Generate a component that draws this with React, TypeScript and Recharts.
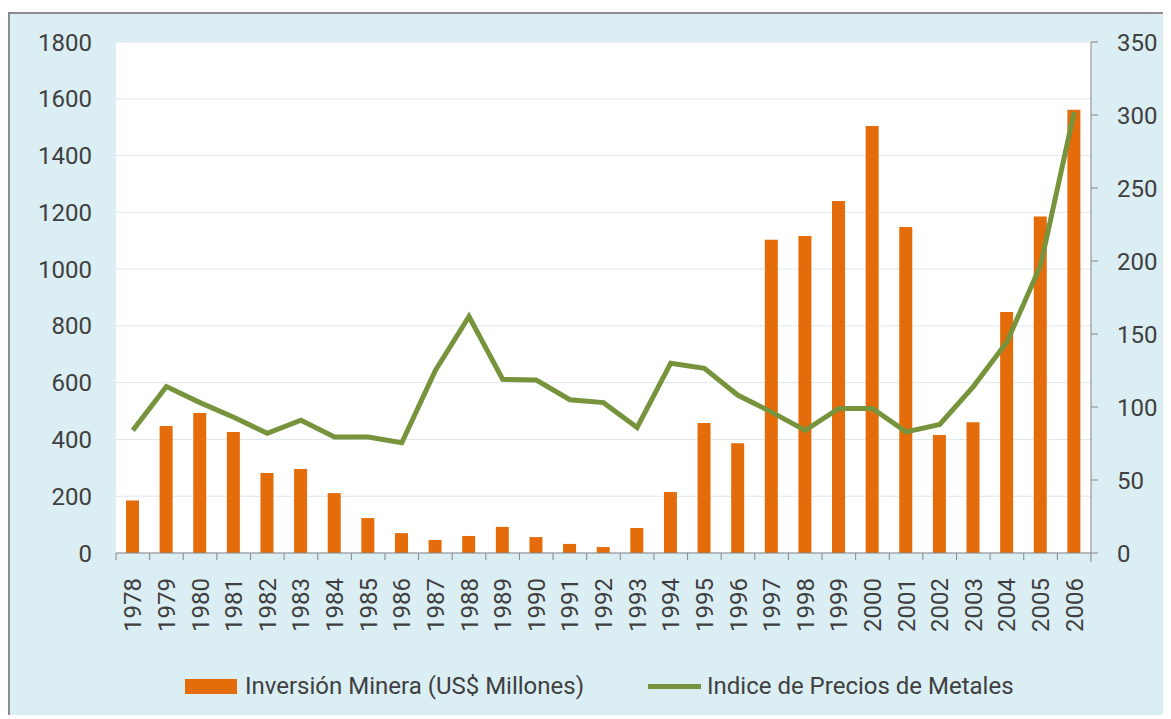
import { ComposedChart, Bar, Line, XAxis, YAxis, CartesianGrid, Legend } from "recharts";

const years = [
  "1978", "1979", "1980", "1981", "1982", "1983", "1984", "1985", "1986", "1987",
  "1988", "1989", "1990", "1991", "1992", "1993", "1994", "1995", "1996", "1997",
  "1998", "1999", "2000", "2001", "2002", "2003", "2004", "2005", "2006",
];

const inversionMinera = [
  185, 447, 493, 426, 282, 296, 211, 123, 70, 46,
  60, 92, 56, 32, 21, 88, 215, 458, 387, 1103,
  1117, 1240, 1504, 1148, 416, 461, 849, 1185, 1561,
];

const indicePrecios = [
  84, 114, 103, 93, 82, 91, 79.5, 79.5, 75.5, 125,
  162, 119, 118.5, 105, 103, 86, 130, 126.5, 108, 96.5,
  84, 99, 99, 83, 88, 114, 144.5, 197, 302,
];

const leftTicks = [0, 200, 400, 600, 800, 1000, 1200, 1400, 1600, 1800];
const rightTicks = [0, 50, 100, 150, 200, 250, 300, 350];

const data = years.map((year, i) => ({
  year,
  inversion: inversionMinera[i],
  indice: indicePrecios[i],
}));

const FONT = "Roboto, 'Open Sans', sans-serif";
const TEXT = "#404040";
const AXIS = "#868686";
const ORANGE = "#E46C0A";
const GREEN = "#77933C";

const CHART_W = 1161;
const CHART_H = 705;
const LEFT_W = 106;
const RIGHT_W = 80;
const band = (CHART_W - LEFT_W - RIGHT_W) / years.length;

function YearTick(props: any) {
  const { x, y, payload, index } = props;
  const left = x - band / 2;
  return (
    <g>
      <line x1={left} y1={y} x2={left} y2={y + 7} stroke={AXIS} strokeWidth={1} />
      {index === years.length - 1 && (
        <line x1={x + band / 2} y1={y} x2={x + band / 2} y2={y + 9} stroke={AXIS} strokeWidth={1} />
      )}
      <text
        transform={`translate(${x},${y + 25}) rotate(-90)`}
        textAnchor="end"
        dy="0.355em"
        fill={TEXT}
        fontSize={24}
        fontFamily={FONT}
      >
        {payload.value}
      </text>
    </g>
  );
}

function ChartLegend() {
  const label = { fontSize: 24, fontFamily: FONT, color: TEXT, whiteSpace: "nowrap" as const };
  return (
    <div style={{ position: "relative", height: 30 }}>
      <div style={{ position: "absolute", left: 175, top: 0, height: 30, display: "flex", alignItems: "center" }}>
        <span style={{ display: "inline-block", width: 52, height: 15, background: ORANGE, marginRight: 8 }} />
        <span style={label}>Inversión Minera (US$ Millones)</span>
      </div>
      <div style={{ position: "absolute", left: 638, top: 0, height: 30, display: "flex", alignItems: "center" }}>
        <span style={{ display: "inline-block", width: 53, height: 5, background: GREEN, marginRight: 6 }} />
        <span style={label}>Indice de Precios de Metales</span>
      </div>
    </div>
  );
}

export default function App() {
  return (
    <div
      style={{
        position: "relative",
        top: 4,
        width: CHART_W,
        height: CHART_H,
        background: "#DAEEF3",
        borderLeft: "2px solid #8c8c8c",
        borderTop: "2px solid #8c8c8c",
      }}
    >
      <ComposedChart
        width={CHART_W}
        height={CHART_H}
        data={data}
        margin={{ top: 28, right: 0, left: 0, bottom: 36 }}
      >
        <CartesianGrid yAxisId="left" vertical={false} stroke="#dde8ee" fill="#ffffff" />
        <XAxis
          dataKey="year"
          interval={0}
          height={100}
          tickLine={false}
          tickSize={0}
          tickMargin={0}
          stroke={AXIS}
          tick={<YearTick />}
        />
        <YAxis
          yAxisId="left"
          orientation="left"
          width={LEFT_W}
          domain={[0, 1800]}
          ticks={leftTicks}
          axisLine={false}
          tickLine={false}
          tickSize={0}
          tickMargin={24}
          tick={{ fill: TEXT, fontSize: 24, fontFamily: FONT }}
        />
        <YAxis
          yAxisId="right"
          orientation="right"
          width={RIGHT_W}
          domain={[0, 350]}
          ticks={rightTicks}
          stroke={AXIS}
          tickSize={7}
          tickMargin={19}
          tick={{ fill: TEXT, fontSize: 24, fontFamily: FONT }}
        />
        <Legend
          verticalAlign="bottom"
          content={<ChartLegend />}
          wrapperStyle={{ left: 0, top: 657, width: CHART_W, height: 30 }}
        />
        <Bar
          yAxisId="left"
          dataKey="inversion"
          name="Inversión Minera (US$ Millones)"
          fill={ORANGE}
          barSize={13}
          isAnimationActive={false}
        />
        <Line
          yAxisId="right"
          dataKey="indice"
          name="Indice de Precios de Metales"
          type="linear"
          stroke={GREEN}
          strokeWidth={5}
          dot={false}
          isAnimationActive={false}
        />
      </ComposedChart>
    </div>
  );
}
